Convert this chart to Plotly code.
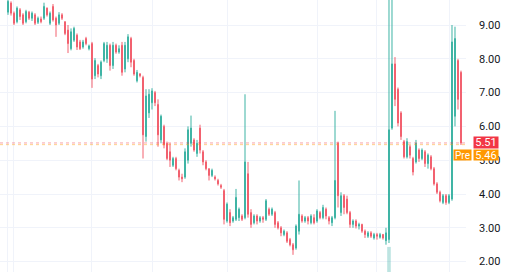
import plotly.graph_objects as go

opens = [9.38,9.65,9.35,9.10,9.45,9.30,9.10,9.38,9.20,9.30,9.08,9.18,9.20,9.50,9.05,9.55,9.20,9.05,9.30,9.10,
         8.85,8.30,8.55,8.70,8.50,8.35,8.60,8.30,8.45,7.50,7.80,7.50,7.95,8.00,8.40,7.80,8.40,8.20,8.40,7.70,
         8.00,8.60,7.95,7.35,7.55,7.45,5.70,6.40,6.70,7.00,6.65,5.60,6.00,5.50,5.25,4.85,5.05,4.70,4.50,4.50,
         5.00,5.50,5.60,5.20,5.95,5.25,4.95,4.75,4.55,4.50,4.40,4.25,4.10,3.20,3.45,3.20,3.25,3.30,3.35,3.30,
         4.60,3.45,3.15,3.35,3.20,3.30,3.25,3.55,3.40,3.45,3.15,3.00,2.80,2.85,2.65,2.50,2.40,2.90,3.35,3.20,
         3.30,3.15,3.30,3.20,3.45,3.30,3.55,3.30,3.15,3.30,5.50,3.45,3.95,3.85,3.45,3.10,3.20,3.05,3.10,2.90,
         2.75,2.85,2.70,2.80,2.72,2.80,2.62,2.65,5.95,7.85,7.10,6.40,5.55,5.10,5.40,5.05,4.95,5.30,5.05,5.25,
         4.90,5.10,4.75,4.30,4.05,3.75,3.95,3.75,3.85,6.30,7.95,7.60]
highs = [9.85,9.70,9.40,9.55,9.50,9.35,9.45,9.42,9.40,9.35,9.25,9.25,9.66,9.52,9.40,9.62,9.25,9.38,9.35,9.10,
         9.00,8.90,8.95,8.75,8.56,8.56,8.65,8.42,8.50,8.02,7.85,7.95,8.50,8.50,8.45,8.50,8.45,8.40,8.50,8.50,
         8.73,8.65,8.00,7.67,7.58,7.50,7.10,7.10,7.13,7.05,6.80,6.35,6.05,5.55,5.50,5.10,5.10,4.75,4.60,5.35,
         6.00,6.32,5.65,5.60,6.05,5.30,5.00,4.75,4.75,4.55,4.45,4.30,4.15,3.75,3.55,3.35,4.15,3.60,3.40,6.95,
         4.95,3.55,3.40,3.40,3.35,3.35,3.85,3.60,3.60,3.50,3.20,3.05,2.95,2.90,2.70,2.55,3.10,4.40,3.40,3.35,
         3.35,3.40,3.40,3.55,3.50,3.68,3.60,3.35,3.35,6.46,5.55,4.05,4.00,3.95,3.50,3.25,3.25,3.15,3.12,2.95,
         2.90,2.90,2.85,2.85,2.85,2.82,3.00,10.50,10.50,8.05,7.15,6.45,5.60,5.65,5.45,5.10,5.60,5.35,5.35,5.30,
         5.20,5.15,4.80,4.35,4.10,4.00,4.00,4.00,9.00,8.95,8.00,7.65]
lows = [9.30,9.28,9.00,9.05,9.15,9.00,9.05,9.15,9.12,9.00,9.03,9.05,9.15,9.25,9.00,9.10,8.65,9.00,9.15,8.70,
        8.17,8.25,8.50,8.26,8.26,8.30,8.40,8.25,7.14,7.40,7.45,7.40,7.90,7.88,7.65,7.70,8.15,8.15,7.50,7.60,
        7.90,7.75,7.50,7.30,7.45,5.05,5.55,6.25,6.50,6.60,5.40,5.50,5.35,5.00,4.80,4.80,4.70,4.40,4.35,4.45,
        4.90,5.40,5.25,5.10,5.20,4.85,4.70,4.40,4.50,4.40,4.25,4.15,3.10,3.15,3.05,3.15,3.20,3.20,3.20,3.25,
        3.30,3.00,3.10,3.10,3.15,3.15,3.20,3.35,3.35,3.00,2.95,2.75,2.75,2.55,2.45,2.20,2.35,2.80,3.15,3.15,
        3.10,3.10,3.10,3.15,3.25,3.25,3.25,3.10,3.05,3.25,3.60,3.35,3.40,3.40,3.00,3.00,2.98,2.95,2.85,2.70,
        2.70,2.70,2.65,2.65,2.68,2.65,2.50,2.55,5.90,6.60,6.00,5.60,5.05,5.05,5.05,4.55,4.90,4.95,5.00,4.80,
        4.75,4.70,4.25,4.00,3.75,3.70,3.68,3.70,3.80,6.00,6.50,5.45]
closes = [9.70,9.35,9.05,9.50,9.25,9.05,9.40,9.20,9.35,9.05,9.20,9.10,9.55,9.30,9.35,9.15,9.00,9.30,9.20,8.75,
          8.45,8.80,8.90,8.35,8.30,8.50,8.45,8.38,7.40,7.95,7.55,7.90,8.45,8.40,7.80,8.40,8.20,8.30,7.60,8.40,
          8.65,7.90,7.55,7.60,7.50,5.75,6.90,6.95,7.05,6.70,5.75,6.30,5.45,5.05,5.00,5.05,4.75,4.50,4.45,5.25,
          5.90,5.95,5.30,5.50,5.30,4.95,4.75,4.55,4.70,4.45,4.30,4.20,3.25,3.70,3.15,3.30,3.90,3.55,3.25,4.95,
          3.40,3.10,3.35,3.20,3.30,3.25,3.80,3.40,3.55,3.10,3.00,2.85,2.90,2.60,2.50,2.35,3.05,3.40,3.20,3.30,
          3.20,3.35,3.15,3.50,3.30,3.60,3.35,3.20,3.30,4.40,3.95,3.95,3.60,3.45,3.10,3.20,3.05,3.10,2.90,2.80,
          2.85,2.75,2.80,2.75,2.80,2.70,2.85,5.90,7.85,6.80,6.10,5.70,5.10,5.55,5.15,4.65,5.50,5.05,5.30,4.90,
          5.15,4.75,4.30,4.05,3.80,3.95,3.75,3.95,8.50,8.60,6.80,5.51]

volume_idx = [127]
volume_vals = [48.0]

price_ticks = [2, 3, 4, 5, 6, 7, 8, 9]
price_labels = ["2.00", "3.00", "4.00", "5.00", "6.00", "7.00", "8.00", "9.00"]
last_price = 5.51
pre_price = 5.46

UP = "#3db3a4"
DOWN = "#f2606e"

n = len(closes)
xs = list(range(n))

fig = go.Figure()
fig.add_trace(go.Bar(
    x=volume_idx, y=volume_vals, yaxis="y2",
    marker=dict(color="rgba(38,166,154,0.3)", line=dict(width=0)),
    width=1.2, hoverinfo="skip", showlegend=False,
))
fig.add_trace(go.Candlestick(
    x=xs, open=opens, high=highs, low=lows, close=closes,
    increasing=dict(line=dict(color=UP, width=1), fillcolor=UP),
    decreasing=dict(line=dict(color=DOWN, width=1), fillcolor=DOWN),
    showlegend=False,
))

fig.add_shape(type="line", xref="paper", x0=0, x1=1, yref="y", y0=pre_price, y1=pre_price,
              line=dict(color="#ff9800", width=1, dash="dot"), opacity=0.45)
fig.add_shape(type="line", xref="paper", x0=0, x1=1, yref="y", y0=last_price, y1=last_price,
              line=dict(color="#f23645", width=1, dash="dot"), opacity=0.45)

fig.add_annotation(xref="paper", x=1, xanchor="left", xshift=7, yref="y", y=last_price,
                   text=f"{last_price:.2f}", showarrow=False, bgcolor="#f23645",
                   font=dict(color="white", size=11, family="Roboto"), borderpad=0, width=24, height=11)
fig.add_annotation(xref="paper", x=1, xanchor="left", xshift=7, yref="y", y=pre_price, yshift=-10,
                   text=f"{pre_price:.2f}", showarrow=False, bgcolor="#ff9800",
                   font=dict(color="white", size=11, family="Roboto"), borderpad=0, width=24, height=10)
fig.add_annotation(xref="paper", x=1, xanchor="right", xshift=6, yref="y", y=pre_price, yshift=-10,
                   text="Pre", showarrow=False, bgcolor="#ff9800",
                   font=dict(color="white", size=10, family="Roboto"), borderpad=0, width=17, height=10)

fig.update_layout(
    width=520, height=272,
    margin=dict(l=0, r=54, t=0, b=0),
    paper_bgcolor="white", plot_bgcolor="white",
    font=dict(family="Roboto", size=11, color="#131722"),
    boxgap=0.55,
    xaxis=dict(range=[-2.67, 152.67], rangeslider=dict(visible=False), showticklabels=False,
               tickvals=[-0.33, 1.67, 27.7, 48, 73, 103, 122.7, 147.3],
               showgrid=True, gridcolor="#f0f3fa", gridwidth=1, zeroline=False, showline=False),
    yaxis=dict(range=[1.692, 9.740], side="right", tickvals=price_ticks, ticktext=price_labels,
               showgrid=True, gridcolor="#f0f3fa", gridwidth=1, zeroline=False, showline=False,
               ticks="", ticklabelstandoff=12, tickfont=dict(size=11, color="#131722")),
    yaxis2=dict(overlaying="y", range=[0, 520], visible=False, fixedrange=True),
)

fig.write_html("out.html")
